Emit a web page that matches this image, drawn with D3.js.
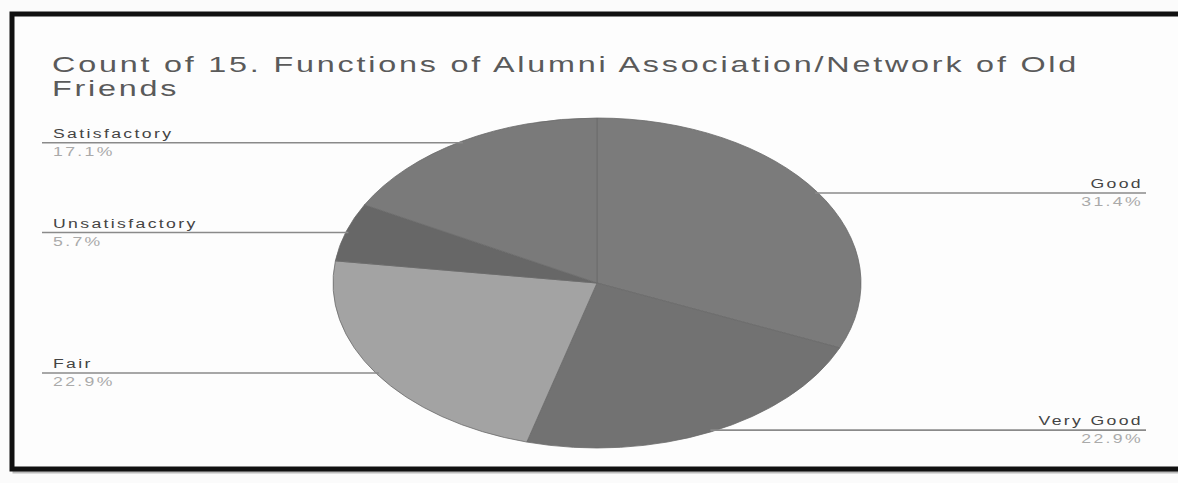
<!DOCTYPE html>
<html>
<head>
<meta charset="utf-8">
<script src="https://cdn.jsdelivr.net/npm/d3@7"></script>
<style>
  body { margin: 0; background: #fbfbfb; }
  text { font-family: "Liberation Sans", Arial, sans-serif; }
</style>
</head>
<body>
<script>
const W = 1178, H = 483;

// slices in drawing order, clockwise from 12 o'clock
const categories = ["Good", "Very Good", "Fair", "Unsatisfactory", "Satisfactory"];
const counts = [11, 8, 8, 2, 6];
const colors = ["#7b7b7b", "#727272", "#a3a3a3", "#676767", "#7a7a7a"];
const labelSide = ["right", "right", "left", "left", "left"];

const titleLines = ["Count of 15. Functions of Alumni Association/Network of Old", "Friends"];

const sx = 1.47;            // the photo is stretched sideways
const cx = 597, cy = 283;   // pie centre
const ry = 165, rx = ry * 1.6;

const svg = d3.select("body").append("svg")
    .attr("width", W)
    .attr("height", H);

// card with thick dark frame
svg.append("rect")
    .attr("x", 14).attr("y", 17)
    .attr("width", W).attr("height", 455)
    .attr("fill", "none")
    .attr("stroke", "#bbb")
    .attr("stroke-width", 3);
svg.append("rect")
    .attr("x", 12).attr("y", 14)
    .attr("width", W).attr("height", 455)
    .attr("fill", "#fdfdfd")
    .attr("stroke", "#111")
    .attr("stroke-width", 5);

// title, spaced out like the stretched photo
svg.selectAll("text.title")
  .data(titleLines)
  .join("text")
    .attr("class", "title")
    .attr("transform", (d, i) => "translate(52," + (72 + i * 24) + ") scale(" + sx + ",1)")
    .attr("font-size", 22)
    .attr("letter-spacing", 1.9)
    .attr("fill", "#5a5a5a")
    .text(d => d);

const total = d3.sum(counts);
const data = categories.map((c, i) => ({name: c, value: counts[i], color: colors[i], side: labelSide[i]}));

const pie = d3.pie().sort(null).value(d => d.value);
const arcs = pie(data);
const arc = d3.arc().innerRadius(0).outerRadius(ry);

// pie drawn as a circle, squashed into the ellipse
const pieG = svg.append("g")
    .attr("transform", "translate(" + cx + "," + cy + ") scale(" + (rx / ry) + ",1)");

pieG.selectAll("path")
  .data(arcs)
  .join("path")
    .attr("d", arc)
    .attr("fill", d => d.data.color)
    .attr("stroke", "#6a6a6a")
    .attr("stroke-width", 0.6);

// leader lines from slice mid angle to the label column
const leftX = 42, rightX = 1146;
const fmt = d3.format(".1%");

const labels = svg.append("g");
arcs.forEach(a => {
  const mid = (a.startAngle + a.endAngle) / 2;
  const ex = cx + Math.sin(mid) * rx * 0.99;
  const ey = cy - Math.cos(mid) * ry * 0.99;
  const right = a.data.side === "right";
  const lx = right ? rightX : leftX;

  labels.append("line")
      .attr("x1", ex).attr("y1", ey)
      .attr("x2", lx).attr("y2", ey)
      .attr("stroke", "#8a8a8a")
      .attr("stroke-width", 1.6);

  const tx = right ? lx - 3 : lx + 11;
  const anchor = right ? "end" : "start";
  labels.append("text")
      .attr("transform", "translate(" + tx + "," + (ey - 5) + ") scale(" + sx + ",1)")
      .attr("text-anchor", anchor)
      .attr("font-size", 12)
      .attr("letter-spacing", 1.6)
      .attr("fill", "#444")
      .text(a.data.name);
  labels.append("text")
      .attr("transform", "translate(" + tx + "," + (ey + 13) + ") scale(" + sx + ",1)")
      .attr("text-anchor", anchor)
      .attr("font-size", 12)
      .attr("letter-spacing", 1.6)
      .attr("fill", "#aaa")
      .text(fmt(a.data.value / total));
});
</script>
</body>
</html>
